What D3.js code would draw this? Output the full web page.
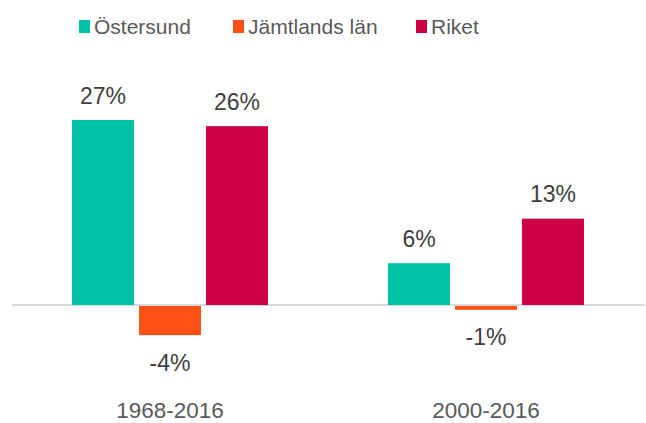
<!DOCTYPE html>
<html lang="sv">
<head>
  <meta charset="UTF-8">
  <script src="https://cdn.jsdelivr.net/npm/d3@7"></script>
  <title>Befolkningsförändring</title>
  <style>
    body { margin: 0; background: #fff; }
    text { font-family: "Liberation Sans", Arial, sans-serif; }
  </style>
</head>
<body>
  <svg></svg>
</body>
<script>
const width = 646;
const height = 423;

// data
const periods = ['1968-2016', '2000-2016'];
const seriesNames = ['Östersund', 'Jämtlands län', 'Riket'];
const colors = ['#00c0a8', '#ff5115', '#cc0043'];
const ostersund = [27, 6.1];
const jamtland = [-4.4, -0.7];
const riket = [26.1, 12.6];
const valueLabels = [['27%', '6%'], ['-4%', '-1%'], ['26%', '13%']];

const svg = d3.select('svg').attr('width', width).attr('height', height);

const series = [ostersund, jamtland, riket].map((values, i) => ({
  name: seriesNames[i],
  color: colors[i],
  values: values.map((v, j) => ({ period: periods[j], value: v, label: valueLabels[i][j] }))
}));

// scales
const x0 = d3.scaleBand().domain(periods).range([12, 644]).paddingInner(0.38).paddingOuter(0.19);
const x1 = d3.scaleBand().domain(seriesNames).range([0, x0.bandwidth()]).paddingInner(0.075);
const y = d3.scaleLinear().domain([0, 27]).range([305, 120]);

// zero line
svg.append('line')
  .attr('x1', 12).attr('x2', 645)
  .attr('y1', y(0)).attr('y2', y(0))
  .attr('stroke', '#d9d9d9')
  .attr('stroke-width', 2);

// bars
const groups = svg.append('g').selectAll('g')
  .data(series)
  .join('g')
  .attr('fill', d => d.color);

groups.selectAll('rect')
  .data(d => d.values.map(v => ({ ...v, name: d.name })))
  .join('rect')
  .attr('x', d => x0(d.period) + x1(d.name))
  .attr('y', d => d.value >= 0 ? y(d.value) : y(0) + 1)
  .attr('width', x1.bandwidth())
  .attr('height', d => d.value >= 0 ? y(0) - y(d.value) : y(d.value) - y(0) - 1);

// value labels
groups.selectAll('text')
  .data(d => d.values.map(v => ({ ...v, name: d.name })))
  .join('text')
  .attr('x', d => x0(d.period) + x1(d.name) + x1.bandwidth() / 2)
  .attr('y', d => d.value >= 0 ? y(d.value) - 16.5 : y(d.value) + 35.5)
  .attr('text-anchor', 'middle')
  .attr('fill', '#404040')
  .style('font-size', '23px')
  .text(d => d.label);

// category labels
svg.append('g').selectAll('text')
  .data(periods)
  .join('text')
  .attr('x', d => x0(d) + x0.bandwidth() / 2)
  .attr('y', 418)
  .attr('text-anchor', 'middle')
  .attr('fill', '#595959')
  .style('font-size', '22.5px')
  .text(d => d);

// legend
const legendX = [79, 233, 416];
const legend = svg.append('g');
series.forEach((s, i) => {
  legend.append('rect')
    .attr('x', legendX[i]).attr('y', 20)
    .attr('width', 11).attr('height', 13)
    .attr('fill', s.color);
  legend.append('text')
    .attr('x', legendX[i] + 15).attr('y', 34)
    .attr('fill', '#595959')
    .style('font-size', '21px')
    .text(s.name);
});
</script>
</html>
